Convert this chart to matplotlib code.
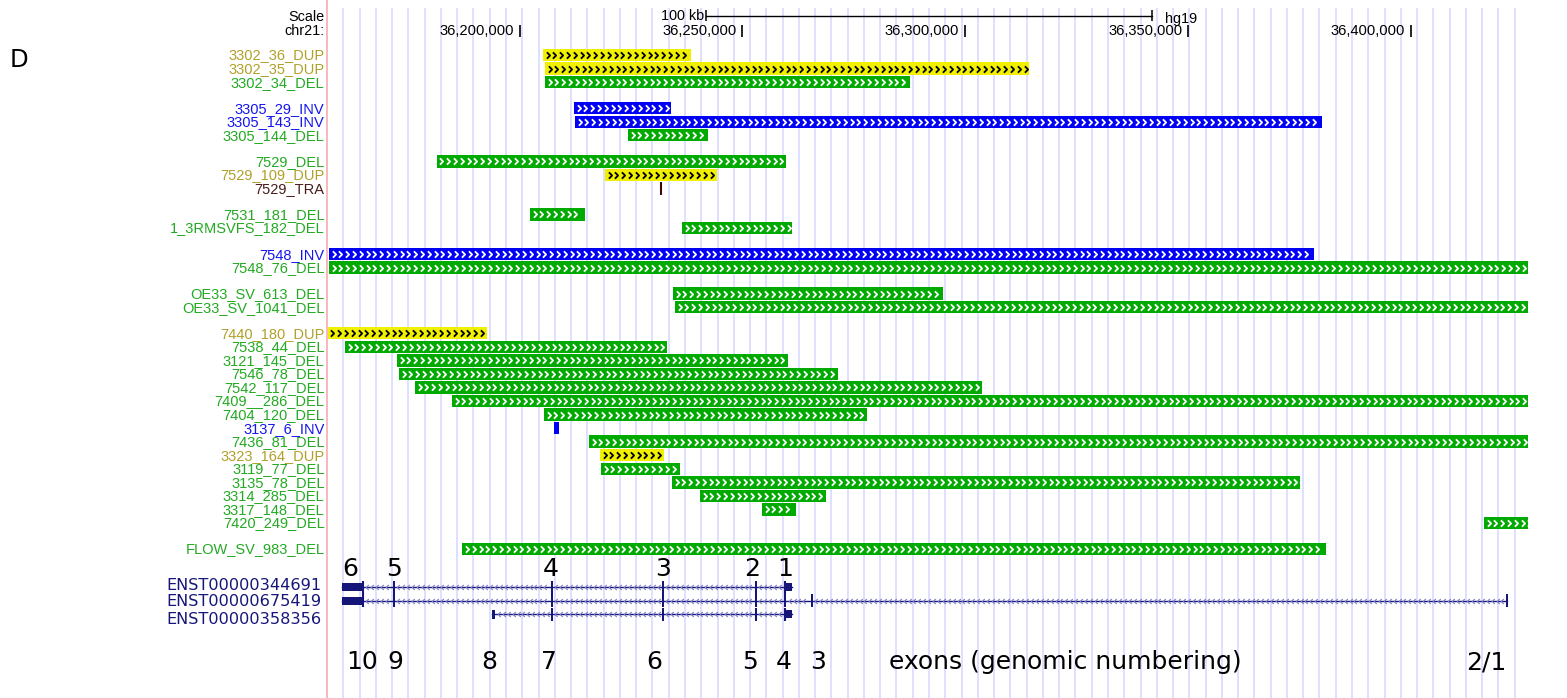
import matplotlib
matplotlib.use("Agg")
import matplotlib.pyplot as plt
from matplotlib.path import Path
from matplotlib.lines import Line2D
from matplotlib.patches import Rectangle
import matplotlib.transforms as mtransforms

# ---------------- data (hg19 chr21, positions in kb) ----------------
track_names = [
    "3302_36_DUP", "3302_35_DUP", "3302_34_DEL",
    "3305_29_INV", "3305_143_INV", "3305_144_DEL",
    "7529_DEL", "7529_109_DUP", "7529_TRA",
    "7531_181_DEL", "1_3RMSVFS_182_DEL",
    "7548_INV", "7548_76_DEL",
    "OE33_SV_613_DEL", "OE33_SV_1041_DEL",
    "7440_180_DUP", "7538_44_DEL", "3121_145_DEL", "7546_78_DEL",
    "7542_117_DEL", "7409__286_DEL", "7404_120_DEL", "3137_6_INV",
    "7436_81_DEL", "3323_164_DUP", "3119_77_DEL", "3135_78_DEL",
    "3314_285_DEL", "3317_148_DEL", "7420_249_DEL",
    "FLOW_SV_983_DEL",
]
track_starts = [
    36205.27, 36205.72, 36205.72,
    36212.23, 36212.45, 36224.34,
    36181.49, 36219.18, 36231.74,
    36202.36, 36236.45,
    36157.27, 36157.27,
    36234.43, 36234.88,
    36157.00, 36160.86, 36172.52, 36172.97,
    36176.56, 36184.86, 36205.50, 36207.74,
    36215.59, 36218.06, 36218.28, 36234.21,
    36240.49, 36254.40, 36416.36,
    36187.21,
]
track_ends = [
    36238.47, 36314.29, 36287.60,
    36233.98, 36380.02, 36242.28,
    36259.78, 36244.30, 36231.74,
    36214.69, 36261.13,
    36378.22, 36440.00,
    36295.00, 36440.00,
    36192.71, 36233.09, 36260.23, 36271.45,
    36303.75, 36440.00, 36277.95, 36208.86,
    36440.00, 36232.41, 36236.00, 36375.08,
    36268.75, 36262.03, 36440.00,
    36380.91,
]
group_sizes = [3, 3, 3, 2, 2, 2, 15, 1]

# RUNX1 transcripts (exon start, end in kb)
tx_names = ["ENST00000344691", "ENST00000675419", "ENST00000358356"]
tx_exons = [
    [(36160.18, 36164.89), (36171.70, 36171.90), (36207.13, 36207.33),
     (36232.02, 36232.22), (36252.95, 36253.15), (36259.56, 36261.13)],
    [(36160.18, 36164.89), (36171.70, 36171.90), (36207.13, 36207.33),
     (36232.02, 36232.22), (36252.95, 36253.15), (36259.50, 36259.70),
     (36265.51, 36265.71), (36421.40, 36421.60)],
    [(36193.76, 36194.50), (36207.13, 36207.33), (36232.02, 36232.22),
     (36252.95, 36253.15), (36259.56, 36261.13)],
]

# exon numbering annotations
top_exon_labels = ["6", "5", "4", "3", "2", "1"]
top_exon_pos = [36161.98, 36171.85, 36207.07, 36232.19, 36252.15, 36259.56]
bottom_exon_labels = ["10", "9", "8", "7", "6", "5", "4", "3", "2/1"]
bottom_exon_pos = [36164.67, 36172.07, 36193.16, 36206.62, 36230.17,
                   36251.71, 36259.33, 36266.96, 36416.81]
bottom_caption = "exons (genomic numbering)"
bottom_caption_pos = 36282.89

ruler_ticks = [36200, 36250, 36300, 36350, 36400]
scale_bar_start = 36241.84
scale_bar_len = 100

# ---------------- styling ----------------
W, H, DPI = 1567, 698, 100
X_LEFT, X_RIGHT = 36157.04, 36426.22
AX_L, AX_R = 328, 1528

bar_colors = {"DEL": "#00AA00", "DUP": "#F0F000", "INV": "#0000F5", "TRA": "#3C0A0A"}
label_colors = {"DEL": "#22AA22", "DUP": "#B0A02A", "INV": "#1515EE", "TRA": "#4A1A1A"}
chev_colors = {"DEL": "white", "DUP": "black", "INV": "white"}
NAVY = "#16167A"
LABEL_FONT = "Liberation Sans"
BIG_FONT = "DejaVu Sans"

fig = plt.figure(figsize=(W / DPI, H / DPI), dpi=DPI)
ax = fig.add_axes([AX_L / W, 0, (AX_R - AX_L) / W, 1])
ax.set_xlim(X_LEFT, X_RIGHT)
ax.set_ylim(H, 0)
ax.axis("off")
px_per_kb = (AX_R - AX_L) / (X_RIGHT - X_LEFT)

lab_tr = mtransforms.blended_transform_factory(fig.transFigure, ax.transData)
LABEL_X = 324.5 / W

# vertical guide lines
gx = X_LEFT + 15.3 / px_per_kb
while gx < X_RIGHT - 5 / px_per_kb:
    ax.plot([gx, gx], [8, H], color="#DDDDFF", lw=1.35, zorder=0,
            solid_capstyle="butt")
    gx += 16.27 / px_per_kb

# left border line of the data area
fig.add_artist(Line2D([327 / W, 327 / W], [0, 1], color="#F4AEAE", lw=1.2,
                      transform=fig.transFigure))

# ---------------- ruler ----------------
ax.text(LABEL_X, 17, "Scale", transform=lab_tr, ha="right", va="center",
        fontsize=10.4, family=LABEL_FONT, color="black")
ax.text(LABEL_X, 31, "chr21:", transform=lab_tr, ha="right", va="center",
        fontsize=10.4, family=LABEL_FONT, color="black")
for t in ruler_ticks:
    ax.plot([t, t], [25, 37], color="black", lw=1.2, solid_capstyle="butt")
    ax.text(t - 6 / px_per_kb, 31, f"{t * 1000:,}", ha="right", va="center",
            fontsize=10.6, family=LABEL_FONT, color="black")
sb_end = scale_bar_start + scale_bar_len
ax.plot([scale_bar_start, sb_end], [15.5, 15.5], color="black", lw=1.0)
for xx in (scale_bar_start, sb_end):
    ax.plot([xx, xx], [10, 21], color="black", lw=1.1, solid_capstyle="butt")
ax.text(scale_bar_start - 2 / px_per_kb, 16.5, f"{scale_bar_len} kb", ha="right",
        va="center", fontsize=10.4, family=LABEL_FONT, color="black")
ax.text(sb_end + 13 / px_per_kb, 18.5, "hg19", ha="left", va="center",
        fontsize=10.4, family=LABEL_FONT, color="black")

# panel letter
fig.text(10 / W, 1 - 60 / H, "D", ha="left", va="center", fontsize=17.5,
         family=BIG_FONT, color="black")

# ---------------- SV tracks ----------------
chev_path = Path([(-0.5, 1.0), (0.5, 0.0), (-0.5, -1.0)],
                 [Path.MOVETO, Path.LINETO, Path.LINETO])
ROW, GAP, Y0, BAR_H = 13.55, 12.5, 55.0, 12.4
row_y = []
y = Y0
for gs in group_sizes:
    for _ in range(gs):
        row_y.append(y)
        y += ROW
    y += GAP

for name, s, e, yy in zip(track_names, track_starts, track_ends, row_y):
    kind = name.split("_")[-1]
    ax.text(LABEL_X, yy + 0.5, name, transform=lab_tr, ha="right", va="center",
            fontsize=10.5, family=LABEL_FONT, color=label_colors[kind])
    if kind == "TRA":
        ax.plot([s, s], [yy - 6.5, yy + 6.5], color=bar_colors[kind], lw=1.5,
                solid_capstyle="butt")
        continue
    ax.barh(yy, e - s, left=s, height=BAR_H, color=bar_colors[kind], lw=0,
            zorder=2)
    step = 6.8 / px_per_kb
    cx = s + 4.5 / px_per_kb
    xs = []
    while cx < e - 3.5 / px_per_kb:
        xs.append(cx)
        cx += step
    if xs:
        ax.plot(xs, [yy] * len(xs), ls="none", marker=chev_path, ms=4.6,
                mew=1.3, mfc="none", mec=chev_colors[kind], zorder=3)

# ---------------- gene models ----------------
intron_arrow = Path([(0.5, 1.0), (-0.5, 0.0), (0.5, -1.0)],
                    [Path.MOVETO, Path.LINETO, Path.LINETO])
tx_y = [587.0, 600.5, 614.0]
tx_label_y = [585.0, 602.0, 619.0]
for name, exons, yy, ly in zip(tx_names, tx_exons, tx_y, tx_label_y):
    ax.text(321 / W, ly, name, transform=lab_tr, ha="right", va="center",
            fontsize=11.6, family=BIG_FONT, color=NAVY)
    t0, t1 = exons[0][0], exons[-1][1]
    ax.plot([t0, t1], [yy, yy], color=NAVY, lw=1.0, zorder=2)
    # strand arrows inside introns
    xs = []
    for (a0, a1), (b0, b1) in zip(exons[:-1], exons[1:]):
        cx = a1 + 4 / px_per_kb
        while cx < b0 - 2.5 / px_per_kb:
            xs.append(cx)
            cx += 4.9 / px_per_kb
    ax.plot(xs, [yy] * len(xs), ls="none", marker=intron_arrow, ms=3.6,
            mew=0.85, mfc="none", mec="#8080C8", zorder=2)
    for i, (a, b) in enumerate(exons):
        if b - a > 1.0:
            ax.add_patch(Rectangle((a, yy - 4), b - a, 8, color=NAVY, lw=0,
                                   zorder=3))
            edge = b if i == 0 else a
            ax.plot([edge, edge], [yy - 6.5, yy + 6.5], color=NAVY, lw=1.5,
                    zorder=3, solid_capstyle="butt")
        else:
            w = max(b - a, 2.2 / px_per_kb)
            c = 0.5 * (a + b)
            hh = 9 if i == 0 else 13
            ax.add_patch(Rectangle((c - w / 2, yy - hh / 2), w, hh, color=NAVY,
                                   lw=0, zorder=3))

for lab, xx in zip(top_exon_labels, top_exon_pos):
    ax.text(xx, 569, lab, ha="center", va="center", fontsize=18,
            family=BIG_FONT, color="black")
for lab, xx in zip(bottom_exon_labels, bottom_exon_pos):
    ax.text(xx, 662, lab, ha="center", va="center", fontsize=18,
            family=BIG_FONT, color="black")
ax.text(bottom_caption_pos, 662, bottom_caption, ha="left", va="center",
        fontsize=18, family=BIG_FONT, color="black")

fig.savefig("out.png", dpi=DPI, facecolor="white")
